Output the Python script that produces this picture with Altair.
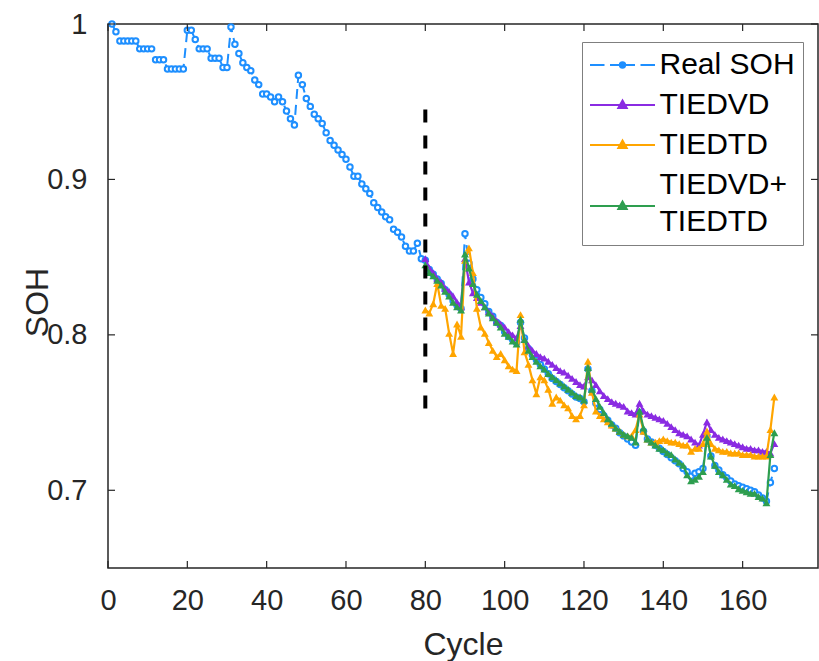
import altair as alt
import pandas as pd

# ---------------- data ----------------
real_cycles = list(range(1, 169))
real_soh = [
    1.000, 0.995, 0.989, 0.989, 0.989, 0.989, 0.989, 0.984, 0.984, 0.984,
    0.984, 0.977, 0.977, 0.977, 0.971, 0.971, 0.971, 0.971, 0.971, 0.996,
    0.996, 0.990, 0.984, 0.984, 0.984, 0.978, 0.978, 0.978, 0.972, 0.972,
    0.998, 0.987, 0.981, 0.975, 0.972, 0.970, 0.964, 0.961, 0.955, 0.955,
    0.953, 0.950, 0.953, 0.950, 0.944, 0.939, 0.935, 0.967, 0.961, 0.952,
    0.947, 0.942, 0.939, 0.936, 0.930, 0.925, 0.922, 0.919, 0.916, 0.913,
    0.908, 0.902, 0.902, 0.897, 0.894, 0.891, 0.885, 0.882, 0.879, 0.876,
    0.874, 0.868, 0.866, 0.863, 0.857, 0.854, 0.854, 0.859, 0.849, 0.848,
    0.842, 0.839, 0.836, 0.833, 0.829, 0.826, 0.822, 0.819, 0.817, 0.865,
    0.846, 0.836, 0.829, 0.824, 0.820, 0.815, 0.812, 0.808, 0.806, 0.802,
    0.799, 0.797, 0.795, 0.808, 0.798, 0.791, 0.787, 0.784, 0.781, 0.778,
    0.775, 0.772, 0.770, 0.768, 0.766, 0.764, 0.762, 0.760, 0.759, 0.757,
    0.778, 0.764, 0.756, 0.752, 0.748, 0.745, 0.742, 0.740, 0.737, 0.735,
    0.733, 0.731, 0.729, 0.750, 0.738, 0.733, 0.731, 0.729, 0.727, 0.725,
    0.723, 0.721, 0.719, 0.717, 0.714, 0.712, 0.709, 0.711, 0.712, 0.714,
    0.735, 0.722, 0.716, 0.713, 0.710, 0.708, 0.706, 0.704, 0.703, 0.702,
    0.701, 0.700, 0.699, 0.697, 0.695, 0.693, 0.705, 0.714,
]

pred_cycles = list(range(80, 169))
tiedvd = [
    0.849, 0.843, 0.840, 0.836, 0.834, 0.830, 0.828, 0.825, 0.821, 0.818,
    0.849, 0.834, 0.827, 0.824, 0.821, 0.818, 0.815, 0.812, 0.809, 0.807,
    0.805, 0.802, 0.800, 0.798, 0.806, 0.797, 0.793, 0.790, 0.788, 0.786,
    0.785, 0.783, 0.781, 0.779, 0.777, 0.776, 0.774, 0.772, 0.770, 0.768,
    0.767, 0.773, 0.771, 0.768, 0.764, 0.761, 0.759, 0.757, 0.756, 0.755,
    0.754, 0.751, 0.750, 0.749, 0.756, 0.751, 0.749, 0.748, 0.747, 0.746,
    0.745, 0.743, 0.741, 0.739, 0.737, 0.736, 0.735, 0.733, 0.731, 0.729,
    0.736, 0.744, 0.739, 0.736, 0.734, 0.733, 0.732, 0.731, 0.730, 0.729,
    0.728, 0.727, 0.727, 0.726, 0.726, 0.725, 0.725, 0.724, 0.730,
]
tiedtd = [
    0.816, 0.814, 0.820, 0.833, 0.819, 0.817, 0.801, 0.788, 0.807, 0.799,
    0.848, 0.856, 0.840, 0.817, 0.805, 0.801, 0.795, 0.790, 0.786, 0.788,
    0.784, 0.780, 0.778, 0.777, 0.813, 0.789, 0.781, 0.771, 0.762, 0.773,
    0.771, 0.765, 0.756, 0.760, 0.758, 0.755, 0.753, 0.748, 0.746, 0.748,
    0.755, 0.783, 0.763, 0.751, 0.748, 0.746, 0.744, 0.742, 0.740, 0.738,
    0.736, 0.735, 0.735, 0.739, 0.749, 0.738, 0.733, 0.731, 0.731, 0.732,
    0.733, 0.732, 0.731, 0.731, 0.730, 0.729, 0.729, 0.725, 0.727, 0.727,
    0.730, 0.738, 0.730, 0.727, 0.726, 0.725, 0.725, 0.724, 0.724, 0.724,
    0.723, 0.723, 0.723, 0.722, 0.722, 0.722, 0.722, 0.739, 0.760,
]
tiedvd_tiedtd = [
    0.845, 0.840, 0.838, 0.835, 0.832, 0.828, 0.825, 0.821, 0.818, 0.816,
    0.852, 0.843, 0.833, 0.826, 0.822, 0.818, 0.814, 0.811, 0.808, 0.805,
    0.801, 0.799, 0.796, 0.794, 0.810, 0.797, 0.790, 0.786, 0.783, 0.780,
    0.778, 0.775, 0.773, 0.771, 0.769, 0.767, 0.765, 0.763, 0.761, 0.760,
    0.758, 0.779, 0.765, 0.759, 0.754, 0.750, 0.746, 0.743, 0.740, 0.738,
    0.736, 0.735, 0.734, 0.731, 0.751, 0.740, 0.733, 0.731, 0.729, 0.727,
    0.726, 0.724, 0.723, 0.720, 0.718, 0.716, 0.710, 0.706, 0.707, 0.709,
    0.712, 0.734, 0.722, 0.716, 0.712, 0.710, 0.707, 0.704, 0.703, 0.701,
    0.700, 0.699, 0.698, 0.698, 0.696, 0.695, 0.692, 0.723, 0.737,
]

series_names = ["Real SOH", "TIEDVD", "TIEDTD", "TIEDVD+TIEDTD"]
series_colors = ["#1E8FFF", "#8A2BE2", "#FFA500", "#2E9E4F"]

x_ticks = [0, 20, 40, 60, 80, 100, 120, 140, 160]
y_ticks = [0.7, 0.8, 0.9, 1.0]
x_domain = [0, 179]
y_domain = [0.65, 1.0]

split_cycle = [80]
split_top = [0.945]
split_bottom = [0.75]

# ---------------- tables ----------------
rows = []
for c, v in zip(real_cycles, real_soh):
    rows.append({"cycle": c, "soh": v, "series": series_names[0]})
for name, vals in zip(series_names[1:], [tiedvd, tiedtd, tiedvd_tiedtd]):
    for c, v in zip(pred_cycles, vals):
        rows.append({"cycle": c, "soh": v, "series": name})
df = pd.DataFrame(rows)

W, H = 710, 544
AX = "#262626"

xscale = alt.Scale(domain=x_domain, nice=False, zero=False)
yscale = alt.Scale(domain=y_domain, nice=False, zero=False)
xaxis = alt.Axis(values=x_ticks, title="Cycle", grid=False, ticks=False, domain=False,
                 labelFontSize=29, labelPadding=18, labelColor=AX, labelFlush=False,
                 titleFontSize=32, titleFontWeight="normal", titleColor=AX,
                 titleY=86, titleBaseline="alphabetic")
yaxis = alt.Axis(values=y_ticks, format=".1~f", title="SOH", grid=False, ticks=False,
                 domain=False, labelFontSize=29, labelPadding=21, labelColor=AX,
                 labelFlush=False, titleFontSize=32, titleFontWeight="normal",
                 titleColor=AX, titleX=-61, titleY=278, titleBaseline="alphabetic")
X = alt.X("cycle:Q", scale=xscale, axis=xaxis)
Y = alt.Y("soh:Q", scale=yscale, axis=yaxis)

base = alt.Chart(df)
layers = []
for i, (name, color) in enumerate(zip(series_names, series_colors)):
    d = base.transform_filter(alt.datum.series == name)
    if i == 0:
        layers.append(d.mark_line(color=color, strokeWidth=2, strokeDash=[10, 6]).encode(x=X, y=Y))
        layers.append(d.mark_point(shape="circle", size=30, filled=False, fill="white",
                                   stroke=color, strokeWidth=2, opacity=1).encode(x=X, y=Y))
    else:
        layers.append(d.mark_line(color=color, strokeWidth=2.2).encode(x=X, y=Y))
        layers.append(d.mark_point(shape="triangle-up", size=62, filled=True, color=color,
                                   opacity=1).encode(x=X, y=Y))

# dashed divider
split_df = pd.DataFrame({"cycle": split_cycle, "soh": split_top, "soh2": split_bottom})
divider = alt.Chart(split_df).mark_rule(color="black", strokeWidth=4, strokeDash=[13, 13]).encode(
    x=X, y=Y, y2="soh2:Q")

# inward ticks
xt = pd.DataFrame({"cycle": x_ticks})
yt = pd.DataFrame({"soh": y_ticks})
tick_bottom = alt.Chart(xt).mark_rule(color=AX, strokeWidth=1.2).encode(
    x=X, y=alt.value(H), y2=alt.value(H - 7))
tick_top = alt.Chart(xt).mark_rule(color=AX, strokeWidth=1.2).encode(
    x=X, y=alt.value(0), y2=alt.value(7))
tick_left = alt.Chart(yt).mark_rule(color=AX, strokeWidth=1.2).encode(
    y=Y, x=alt.value(0), x2=alt.value(7))
tick_right = alt.Chart(yt).mark_rule(color=AX, strokeWidth=1.2).encode(
    y=Y, x=alt.value(W), x2=alt.value(W - 7))

# legend (symbols drawn by Vega's legend; the anchor points lie outside and are clipped)
real_sym = ("M-3.25,0H-1.8M-1.25,0H-0.35M0.35,0H1.25M1.8,0H3.25"
            "M-0.27,0A0.27,0.27 0 1,1 0.27,0A0.27,0.27 0 1,1 -0.27,0Z")
tri_sym = "M-3.25,0H3.25M0,-0.45L0.42,0.3L-0.42,0.3Z"
tri_sym_low = "M-3.25,2.1H3.25M0,1.65L0.42,2.4L-0.42,2.4Z"
leg_df = pd.DataFrame({"series": series_names, "cycle": [-30] * 4, "soh": [0.8] * 4})
L = alt.Legend(title=None, orient="none", legendX=474, legendY=18, direction="vertical",
               labelFontSize=30, labelColor="black", symbolSize=400, symbolOffset=17.5,
               labelOffset=22, symbolStrokeWidth=2, padding=8, rowPadding=10,
               fillColor="white", strokeColor="#7f7f7f", symbolOpacity=1, labelLimit=400,
               labelExpr="datum.label === 'TIEDVD+TIEDTD' ? ['TIEDVD+', 'TIEDTD'] : datum.label")
cscale = alt.Scale(domain=series_names, range=series_colors)
legend_layer = alt.Chart(leg_df).mark_point(clip=True, filled=True, size=0).encode(
    x=X, y=Y,
    fill=alt.Fill("series:N", scale=cscale, legend=L),
    stroke=alt.Stroke("series:N", scale=cscale, legend=L),
    shape=alt.Shape("series:N", scale=alt.Scale(domain=series_names,
                                                range=[real_sym, tri_sym, tri_sym, tri_sym_low]),
                    legend=L),
)

chart = alt.layer(
    *layers, divider, tick_bottom, tick_top, tick_left, tick_right, legend_layer
).properties(
    width=W, height=H,
    padding={"left": 108, "top": 24, "right": 1, "bottom": 93},
    autosize=alt.AutoSizeParams(type="none"),
).configure(
    font="Liberation Sans",
    style={"guide-label": {"lineHeight": 37}},
    view=alt.ViewConfig(stroke=AX, strokeWidth=1.5),
)

chart.save("out.html", embed_options={"renderer": "svg", "actions": False})
